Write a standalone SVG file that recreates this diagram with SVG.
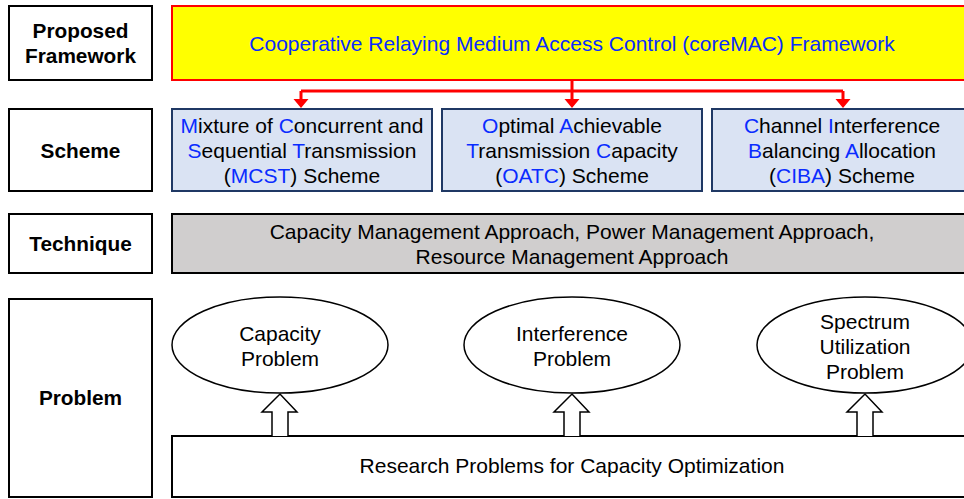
<svg xmlns="http://www.w3.org/2000/svg" width="964" height="499" viewBox="0 0 964 499">
<defs>
<style>
text{font-family:"Liberation Sans",Arial,sans-serif;font-size:21px;fill:#000;text-anchor:middle}
.lbl{font-weight:bold;font-size:20.8px}
.b{fill:#0a2cff}
.lab{fill:#fff;stroke:#000;stroke-width:2}
.sch{fill:#dae3f3;stroke:#1f3864;stroke-width:2}
.red{stroke:#ff0000;stroke-width:3;fill:none}
.hollow{fill:#fff;stroke:#000;stroke-width:1.5}
.ell{fill:#fff;stroke:#000;stroke-width:1.5}
</style>
</defs>

<g id="label-framework"><rect class="lab" x="9" y="6" width="143" height="74"/><text class="lbl" x="80.5" y="38">Proposed</text><text class="lbl" x="80.5" y="63">Framework</text></g>
<g id="label-scheme"><rect class="lab" x="9" y="109" width="143" height="82"/><text class="lbl" x="80.5" y="158">Scheme</text></g>
<g id="label-technique"><rect class="lab" x="9" y="214" width="143" height="59"/><text class="lbl" x="80.5" y="251">Technique</text></g>
<g id="label-problem"><rect class="lab" x="9" y="299" width="143" height="198"/><text class="lbl" x="80.5" y="405">Problem</text></g>

<g id="framework"><rect x="172" y="6" width="800" height="74" fill="#ffff00" stroke="#ff0000" stroke-width="2"/><text class="b" x="572" y="51">Cooperative Relaying Medium Access Control (coreMAC) Framework</text></g>

<g id="mcst"><rect class="sch" x="172" y="109" width="260" height="82"/>
<text x="302" y="133"><tspan class="b">M</tspan>ixture of <tspan class="b">C</tspan>oncurrent and</text>
<text x="302" y="158"><tspan class="b">S</tspan>equential <tspan class="b">T</tspan>ransmission</text>
<text x="302" y="183">(<tspan class="b">MCST</tspan>) Scheme</text></g>
<g id="oatc"><rect class="sch" x="442" y="109" width="260" height="82"/>
<text x="572" y="133"><tspan class="b">O</tspan>ptimal <tspan class="b">A</tspan>chievable</text>
<text x="572" y="158"><tspan class="b">T</tspan>ransmission <tspan class="b">C</tspan>apacity</text>
<text x="572" y="183">(<tspan class="b">OATC</tspan>) Scheme</text></g>
<g id="ciba"><rect class="sch" x="712" y="109" width="260" height="82"/>
<text x="842" y="133"><tspan class="b">C</tspan>hannel <tspan class="b">I</tspan>nterference</text>
<text x="842" y="158"><tspan class="b">B</tspan>alancing <tspan class="b">A</tspan>llocation</text>
<text x="842" y="183">(<tspan class="b">CIBA</tspan>) Scheme</text></g>

<g id="technique"><rect x="172" y="214" width="800" height="59" fill="#d0cece" stroke="#000" stroke-width="2"/>
<text x="572" y="239">Capacity Management Approach, Power Management Approach,</text>
<text x="572" y="264">Resource Management Approach</text></g>

<g id="capacity"><ellipse class="ell" cx="280" cy="345" rx="108" ry="48"/><text x="280" y="341">Capacity</text><text x="280" y="366">Problem</text></g>
<g id="interference"><ellipse class="ell" cx="572" cy="345" rx="108" ry="48"/><text x="572" y="341">Interference</text><text x="572" y="366">Problem</text></g>
<g id="spectrum"><ellipse class="ell" cx="865" cy="345" rx="108" ry="48"/><text x="865" y="329">Spectrum</text><text x="865" y="354">Utilization</text><text x="865" y="379">Problem</text></g>

<g id="research"><rect x="172" y="436" width="800" height="61" fill="#fff" stroke="#000" stroke-width="2"/><text x="572" y="473">Research Problems for Capacity Optimization</text></g>

<g id="connectors">
<path class="red" d="M572,80 V101"/>
<path class="red" d="M301,91 H843"/>
<path class="red" d="M301,91 V101"/>
<path class="red" d="M843,91 V101"/>
<path d="M293.5,99 L308.5,99 L301,108 z M564.5,99 L579.5,99 L572,108 z M835.5,99 L850.5,99 L843,108 z" fill="#ff0000"/>
<path class="hollow" d="M272,436 V412 H262 L280,394 L297,412 H288 V436"/>
<path class="hollow" d="M564,436 V412 H554 L572,394 L589,412 H580 V436"/>
<path class="hollow" d="M857,436 V412 H847 L865,394 L882,412 H873 V436"/>
</g>
</svg>
